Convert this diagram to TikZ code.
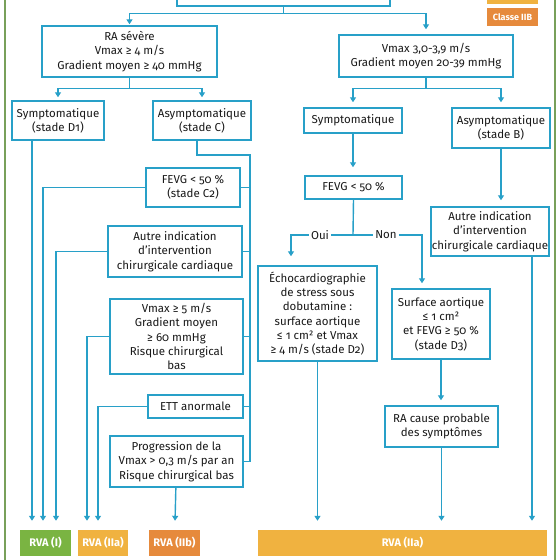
\documentclass[tikz,border=0pt]{standalone}
\usepackage{fontspec}
\setmainfont{Fira Sans}[Numbers=OldStyle]
\usetikzlibrary{arrows.meta}
\definecolor{bleu}{RGB}{40,160,200}
\definecolor{vertRVA}{RGB}{122,180,66}
\definecolor{jaune}{RGB}{240,178,64}
\definecolor{orangeRVA}{RGB}{230,138,60}
\definecolor{cadre}{RGB}{120,160,90}
\begin{document}
\begin{tikzpicture}[x=1pt,y=-1pt,
  every node/.style={font=\fontsize{11.5}{14.3}\selectfont, text=black!90},
  boite/.style={draw=bleu, line width=1.4pt, align=center, inner sep=1pt, fill=white},
  ligne/.style={draw=bleu, line width=1.4pt},
  fleche/.style={ligne, -{Triangle[width=6pt,length=5pt]}, shorten >=5pt},
  classe/.style={fill=#1, text=white, inner sep=0pt, minimum height=26pt,
    font=\fontsize{11}{12}\selectfont\bfseries}]
  \useasboundingbox (0,0) rectangle (560,560);
  \clip (0,0) rectangle (560,560);
  % cadre
  \draw[cadre, line width=1.3pt] (5,0) -- (5,560);
  \draw[cadre, line width=1.3pt] (555,0) -- (555,560);
  % legende
  \node[classe=jaune, minimum width=51pt, minimum height=18pt] (leg1) at (512.5,-5) {};
  \node[classe=orangeRVA, minimum width=51pt, minimum height=18pt,
    font=\fontsize{9}{10}\selectfont\bfseries] (leg2) at (512.5,17) {Classe IIB};
  % boites
  \node[boite, minimum width=213pt, minimum height=40pt] (haut) at (283.5,-14) {};
  \node[boite, minimum width=175pt, minimum height=51pt] (severe) at (129.5,51.5)
    {RA sévère\\Vmax ≥ 4 m/s\\Gradient moyen ≥ 40 mmHg};
  \node[boite, minimum width=174pt, minimum height=42pt] (modere) at (426,56)
    {Vmax 3,0-3,9 m/s\\Gradient moyen 20-39 mmHg};
  \node[boite, minimum width=92pt, minimum height=39pt] (d1) at (58,120.5)
    {Symptomatique\\(stade D1)};
  \node[boite, minimum width=98pt, minimum height=39pt] (stadeC) at (202,120.5)
    {Asymptomatique\\(stade C)};
  \node[boite, minimum width=94pt, minimum height=39pt] (c2) at (193,187.5)
    {FEVG < 50 \%\\(stade C2)};
  \node[boite, minimum width=134pt, minimum height=51pt] (autreL) at (175,251.5)
    {Autre indication\\d’intervention\\chirurgicale cardiaque};
  \node[boite, minimum width=133pt, minimum height=75pt] (vmax5) at (176.5,336.5)
    {Vmax ≥ 5 m/s\\Gradient moyen\\≥ 60 mmHg\\Risque chirurgical\\bas};
  \node[boite, minimum width=95pt, minimum height=23pt] (ett) at (195.5,406.5)
    {ETT anormale};
  \node[boite, minimum width=133pt, minimum height=51pt] (progr) at (176.5,461.5)
    {Progression de la\\Vmax > 0,3 m/s par an\\Risque chirurgical bas};
  \node[boite, minimum width=98pt, minimum height=25pt] (symR) at (353,120.5)
    {Symptomatique};
  \node[boite, minimum width=98pt, minimum height=40pt] (stadeB) at (501,128)
    {Asymptomatique\\(stade B)};
  \node[boite, minimum width=97pt, minimum height=23pt] (fevgR) at (353.5,187.5)
    {FEVG < 50 \%};
  \node[boite, minimum width=118pt, minimum height=49pt] (autreR) at (490,231.5)
    {Autre indication\\d’intervention\\chirurgicale cardiaque};
  \node[boite, minimum width=119pt, minimum height=95pt] (echo) at (317.5,313.5)
    {Échocardiographie\\de stress sous\\dobutamine :\\surface aortique\\≤ 1 cm² et Vmax\\≥ 4 m/s (stade D2)};
  \node[boite, minimum width=98pt, minimum height=70pt] (surface) at (441,324)
    {Surface aortique\\≤ 1 cm²\\et FEVG ≥ 50 \%\\(stade D3)};
  \node[boite, minimum width=113pt, minimum height=41pt] (cause) at (441.5,426.5)
    {RA cause probable\\des symptômes};
  % classes RVA
  \node[classe=vertRVA, minimum width=51pt] (rvaI) at (45.5,543) {RVA (I)};
  \node[classe=jaune, minimum width=50pt] (rvaIIa) at (103,543) {RVA (IIa)};
  \node[classe=orangeRVA, minimum width=51pt] (rvaIIb) at (174.5,543) {RVA (IIb)};
  \node[classe=jaune, minimum width=289pt] (rvaIIaD) at (402.5,543) {RVA (IIa)};
  % liaisons du haut
  \draw[ligne] (haut.south) -- ++(0,7) coordinate (j0);
  \draw[fleche, shorten >=1pt] (j0) -| (severe.north);
  \draw[fleche] (j0) -| (modere.north);
  \draw[ligne] (severe.south) -- ++(0,11) coordinate (j1);
  \draw[fleche, shorten >=3pt] (j1) -| (d1.north);
  \draw[fleche, shorten >=3pt] (j1) -| (stadeC.north);
  \draw[ligne] (modere.south) -- ++(0,11) coordinate (j2);
  \draw[fleche] (j2) -| (symR.north);
  \draw[fleche] (j2) -| (stadeB.north);
  % branche droite
  \draw[fleche, shorten >=8pt] (symR.south) -- (symR.south |- fevgR.north);
  \draw[fleche, shorten >=6pt] (stadeB.south) -- (stadeB.south |- autreR.north);
  \coordinate (j3) at (353,235);
  \draw[ligne] (fevgR.south) -- (j3);
  \draw[fleche, shorten >=9pt] (j3) -| ([xshift=-26.5pt]echo.north);
  \draw[fleche] (j3) -| ([xshift=-19pt]surface.north);
  \node[fill=white, inner xsep=2.5pt, inner ysep=0pt] (oui) at (320,235) {Oui};
  \node[fill=white, inner xsep=2.5pt, inner ysep=0pt] (non) at (386,235) {Non};
  \draw[fleche] (surface.south) -- (surface.south |- cause.north);
  \draw[fleche, shorten >=9pt] (echo.south) -- (echo.south |- rvaIIaD.north);
  \draw[fleche, shorten >=9pt] (cause.south) -- (cause.south |- rvaIIaD.north);
  \draw[fleche, shorten >=9pt] ([xshift=42pt]autreR.south) -- ([xshift=42pt]autreR.south |- rvaIIaD.north);
  % branche gauche
  \coordinate (tr) at (250,155);
  \draw[ligne] ([xshift=-5pt]stadeC.south) |- (tr) -- (tr |- progr.east);
  \foreach \b in {c2,autreL,vmax5,ett,progr}
    \draw[ligne] (\b.east) -- (\b.east -| tr);
  \draw[fleche, shorten >=9pt] ([xshift=-26pt]d1.south) -- ([xshift=-26pt]d1.south |- rvaI.north);
  \draw[fleche, shorten >=9pt] (c2.west) -| ([xshift=-2.5pt]rvaI.north);
  \draw[fleche, shorten >=9pt] (autreL.west) -| ([xshift=10.5pt]rvaI.north);
  \draw[fleche, shorten >=9pt] (vmax5.west) -| ([xshift=-16pt]rvaIIa.north);
  \draw[fleche, shorten >=9pt] (ett.west) -| ([xshift=-5pt]rvaIIa.north);
  \draw[fleche, shorten >=9pt] (progr) -- (rvaIIb);
\end{tikzpicture}
\end{document}
